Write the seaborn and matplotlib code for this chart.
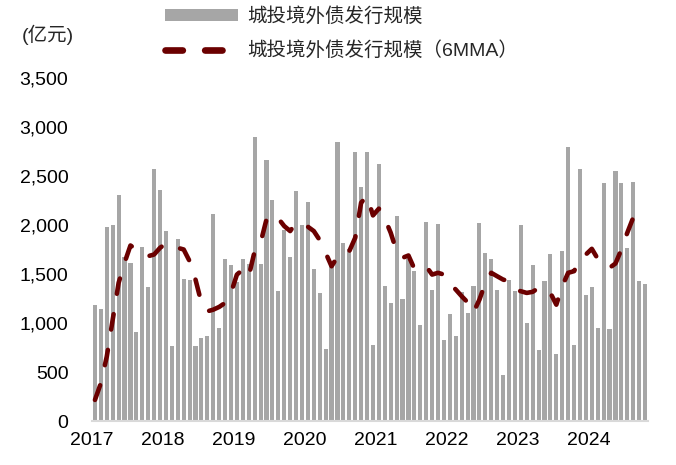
import numpy as np
import pandas as pd
import matplotlib
matplotlib.use('Agg')
import matplotlib.pyplot as plt
from matplotlib.lines import Line2D
from matplotlib.legend_handler import HandlerLine2D
import seaborn as sns

# 城投境外债月度发行规模（亿元），2017-01 至 2024-10
years = ['2017', '2018', '2019', '2020', '2021', '2022', '2023', '2024']
issuance = [
    1187, 1143, 1979, 1996, 2303, 1672, 1614, 904, 1778, 1369, 2569, 2357,
    1941, 768, 1853, 1453, 1443, 761, 850, 870, 2108, 952, 1655, 1590,
    1416, 1655, 1597, 2903, 1597, 2661, 2252, 1327, 1945, 1672, 2344, 1996,
    2235, 1546, 1310, 737, 1600, 2842, 1812, 1750, 2746, 2388, 2740, 778,
    2627, 1375, 1201, 2091, 1249, 1648, 1529, 983, 2030, 1338, 2006, 829,
    1095, 870, 1317, 1102, 1375, 2020, 1716, 1658, 1338, 467, 1443, 1324,
    1996, 1003, 1593, 727, 1430, 1703, 686, 1730, 2801, 778, 2569, 1290,
    1365, 945, 2426, 938, 2555, 2426, 1767, 2436, 1433, 1402,
]
issuance_6mma = [
    215, 386, 658, 1034, 1409, 1614, 1791, 1750, 1716, 1682, 1699, 1767,
    1812, 1801, 1767, 1750, 1631, 1443, 1205, 1119, 1136, 1164, 1205, 1307,
    1494, 1546, 1477, 1733, 1819, 2057, 2108, 2067, 1989, 1938, 2023, 2006,
    1982, 1938, 1846, 1716, 1579, 1675, 1733, 1733, 1870, 2228, 2296, 2098,
    2167, 2067, 1921, 1733, 1665, 1689, 1553, 1579, 1579, 1494, 1512, 1494,
    1402, 1341, 1273, 1211, 1109, 1238, 1409, 1512, 1477, 1443, 1426, 1341,
    1324, 1307, 1318, 1358, 1351, 1307, 1187, 1375, 1512, 1529, 1648, 1699,
    1757, 1655, 1597, 1563, 1607, 1750, 1921, 2075, 2040, 1996,
]
bar_label = '城投境外债发行规模'
line_label = '城投境外债发行规模（6MMA）'

BAR_COLOR = '#a6a6a6'
LINE_COLOR = '#6b0000'


class ShortDashHandler(HandlerLine2D):
    # 图例中的虚线比色块短一些
    def get_xdata(self, legend, xdescent, ydescent, width, height, fontsize):
        xdata = np.array([-xdescent, -xdescent + 41.5])
        return xdata, xdata[:1]


sns.set_theme(style="white")
plt.rcParams['font.family'] = ['Liberation Sans', 'Noto Sans CJK SC']

df = pd.DataFrame({
    'month': np.arange(len(issuance)),
    'issuance': issuance,
    'mma': issuance_6mma,
})

W, H = 676, 465
fig = plt.figure(figsize=(W / 100, H / 100), dpi=100)
ax = fig.add_axes([92 / W, 44 / H, 556 / W, 343 / H])

sns.barplot(data=df, x='month', y='issuance', color=BAR_COLOR, saturation=1,
            width=0.7, linewidth=0, ax=ax)
sns.lineplot(data=df, x='month', y='mma', color=LINE_COLOR, linewidth=3.3,
             ax=ax)
line = ax.lines[-1]
line.set_dashes((3.4, 4.5))
line.set_dash_capstyle('round')

ax.set_xlim(-0.5, len(issuance) - 0.5)
ax.set_ylim(0, 3500)
ax.set_xticks(np.arange(-0.5, len(issuance), 12))
ax.set_xticklabels(years)
ax.set_yticks(range(0, 3501, 500))
ax.set_yticklabels([f'{v:,}' for v in range(0, 3501, 500)])
ax.set_xlabel('')
ax.set_ylabel('')

for side in ['top', 'right', 'left']:
    ax.spines[side].set_visible(False)
ax.spines['bottom'].set_color('#d9d9d9')
ax.spines['bottom'].set_linewidth(1.5)
ax.tick_params(axis='x', length=3, width=1.5, color='#d9d9d9', labelsize=14,
               pad=5, labelcolor='black')
ax.tick_params(axis='y', length=0, labelsize=14, pad=17, labelcolor='black')

bar_handle = plt.Rectangle((0, 0), 1, 1, facecolor=BAR_COLOR, linewidth=0)
line_handle = Line2D([], [], color=LINE_COLOR, linewidth=4.8,
                     dashes=(2.6, 3.35), dash_capstyle='round')
ax.legend([bar_handle, line_handle], [bar_label, line_label],
          handler_map={line_handle: ShortDashHandler()},
          loc='upper left', bbox_to_anchor=(165 / W, 1 - 7 / H),
          bbox_transform=fig.transFigure, frameon=False, fontsize=14,
          handlelength=3.76, handleheight=0.55, handletextpad=0.46,
          labelspacing=0.8, borderpad=0, borderaxespad=0)

fig.text(22 / W, 1 - 35 / H, '(亿元)', fontsize=14, va='center', ha='left')

plt.savefig('out.png', dpi=100)
plt.close()
